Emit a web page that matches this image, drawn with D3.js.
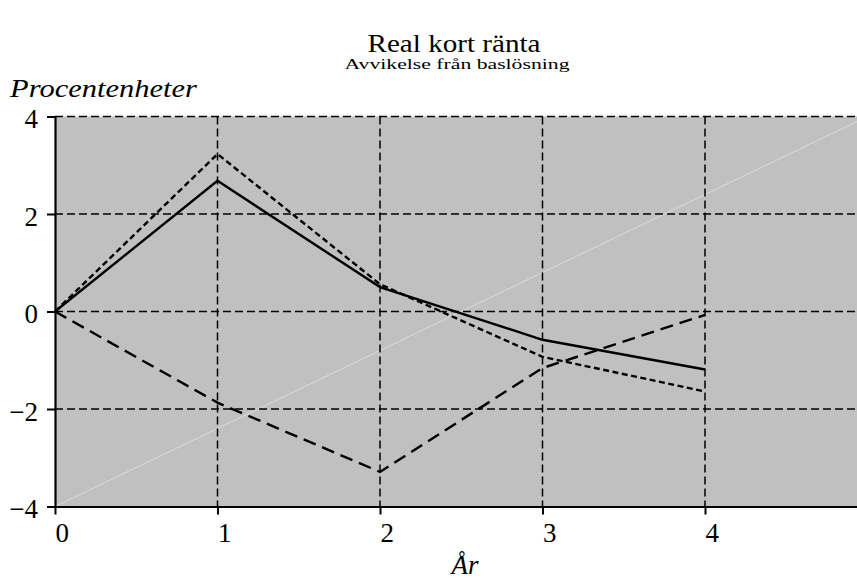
<!DOCTYPE html>
<html>
<head>
<meta charset="utf-8">
<script src="https://cdn.jsdelivr.net/npm/d3@7"></script>
<style>
  body { margin: 0; background: #fff; }
  svg text { font-family: "Liberation Serif", Tinos, "Times New Roman", Times, serif; fill: #000; }
</style>
</head>
<body>
<svg id="chart" width="857" height="579"></svg>
<script>
// values
const years = [0, 1, 2, 3, 4]
const solidSeries = [0, 2.68, 0.50, -0.58, -1.19]
const shortDashSeries = [0, 3.23, 0.56, -0.93, -1.64]
const longDashSeries = [0, -1.87, -3.29, -1.16, -0.07]
const xTicks = [0, 1, 2, 3, 4]
const yTicks = [-4, -2, 0, 2, 4]

const serif = '"Liberation Serif", Tinos, "Times New Roman", Times, serif'

const svg = d3.select('#chart')

const x = d3.scaleLinear().domain([0, 5]).range([55, 867.5])
const y = d3.scaleLinear().domain([-4, 4]).range([506.5, 116.5])

// plot background
svg.append('rect')
    .attr('x', x(0)).attr('y', y(4))
    .attr('width', x(5) - x(0)).attr('height', y(-4) - y(4))
    .attr('fill', '#c0c0c0')

// faint diagonal
svg.append('line')
    .attr('x1', x(0)).attr('y1', y(-4))
    .attr('x2', x(5)).attr('y2', y(4))
    .attr('stroke', '#e2e2e2').attr('stroke-width', 0.8)

// dashed grid
const grid = svg.append('g')
    .attr('stroke', '#000').attr('stroke-width', 1.5)
    .attr('stroke-dasharray', '8,4')

grid.selectAll('.gx').data(xTicks.filter(d => d > 0)).join('line')
    .attr('x1', d => x(d)).attr('x2', d => x(d))
    .attr('y1', y(4)).attr('y2', y(-4))

grid.selectAll('.gy').data(yTicks.filter(d => d > -4)).join('line')
    .attr('x1', x(0)).attr('x2', x(5))
    .attr('y1', d => y(d)).attr('y2', d => y(d))

// series
const rows = years.map((yr, i) => ({
    yr,
    solid: solidSeries[i],
    short: shortDashSeries[i],
    long: longDashSeries[i]
}))

const series = [
    { key: 'long', dash: '13,7', width: 2.4 },
    { key: 'short', dash: '6,3.5', width: 2.4 },
    { key: 'solid', dash: null, width: 2.4 }
]

series.forEach(s => {
    const line = d3.line()
        .x(d => x(d.yr))
        .y(d => y(d[s.key]))
    svg.append('path')
        .datum(rows)
        .attr('d', line)
        .attr('fill', 'none')
        .attr('stroke', '#000')
        .attr('stroke-width', s.width)
        .attr('stroke-linejoin', 'miter')
        .attr('stroke-dasharray', s.dash)
})

// axes
const yAxis = svg.append('g')
    .attr('transform', `translate(${x(0)},0)`)
    .call(d3.axisLeft(y).tickValues(yTicks).tickFormat(d3.format('d'))
        .tickSizeInner(8).tickSizeOuter(0).tickPadding(10))

const xAxis = svg.append('g')
    .attr('transform', `translate(0,${y(-4)})`)
    .call(d3.axisBottom(x).tickValues(xTicks).tickFormat(d3.format('d'))
        .tickSizeInner(8).tickSizeOuter(0))

;[yAxis, xAxis].forEach(a => {
    a.attr('font-family', serif).attr('font-size', 27)
    a.select('.domain').attr('stroke', '#000').attr('stroke-width', 2.2)
    a.selectAll('.tick line').attr('stroke', '#000').attr('stroke-width', 2)
    a.selectAll('.tick text').attr('fill', '#000')
})

yAxis.selectAll('.tick text')
    .attr('x', -17)
    .attr('dy', '0.42em')

xAxis.selectAll('.tick text')
    .attr('text-anchor', 'start')
    .attr('x', 0)
    .attr('y', 35)
    .attr('dy', 0)

// titles
svg.append('text')
    .attr('x', 454).attr('y', 52)
    .attr('text-anchor', 'middle')
    .attr('font-size', 25)
    .attr('textLength', 173).attr('lengthAdjust', 'spacingAndGlyphs')
    .text('Real kort ränta')

svg.append('text')
    .attr('x', 457).attr('y', 69)
    .attr('text-anchor', 'middle')
    .attr('font-size', 15)
    .attr('textLength', 225).attr('lengthAdjust', 'spacingAndGlyphs')
    .text('Avvikelse från baslösning')

svg.append('text')
    .attr('x', 10).attr('y', 97)
    .attr('font-size', 25)
    .attr('font-style', 'italic')
    .attr('textLength', 187).attr('lengthAdjust', 'spacingAndGlyphs')
    .text('Procentenheter')

svg.append('text')
    .attr('x', 465).attr('y', 574)
    .attr('text-anchor', 'middle')
    .attr('font-size', 27)
    .attr('font-style', 'italic')
    .text('År')
</script>
</body>
</html>
